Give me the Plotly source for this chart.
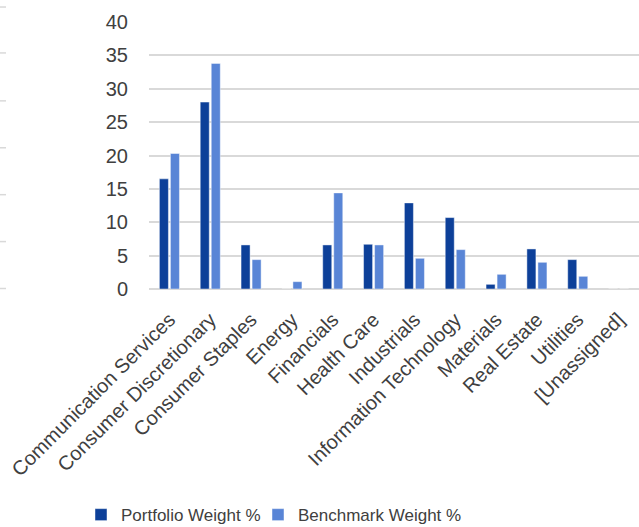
import plotly.graph_objects as go

categories = ["Communication Services", "Consumer Discretionary", "Consumer Staples", "Energy",
              "Financials", "Health Care", "Industrials", "Information Technology",
              "Materials", "Real Estate", "Utilities", "[Unassigned]"]
portfolio = [16.5, 28.0, 6.6, 0.0, 6.6, 6.7, 12.9, 10.7, 0.7, 6.0, 4.4, 0.0]
benchmark = [20.3, 33.8, 4.4, 1.1, 14.4, 6.6, 4.6, 5.9, 2.2, 4.0, 1.9, 0.0]
y_ticks = [0, 5, 10, 15, 20, 25, 30, 35, 40]

FONT = "Liberation Sans, Arial, sans-serif"
TXT = "#404040"

fig = go.Figure()
fig.add_trace(go.Bar(name="Portfolio Weight %", x=categories, y=portfolio, legend="legend",
                     marker=dict(color="#0D4099", line=dict(color="rgba(255,255,255,0.45)", width=1))))
fig.add_trace(go.Bar(name="Benchmark Weight %", x=categories, y=benchmark, legend="legend2",
                     marker=dict(color="#5985D6", line=dict(color="rgba(255,255,255,0.45)", width=1))))

W, H = 639, 527
L, R, T, B = 149, 0, 22, 237.5
pw = W - L - R
ph = H - T - B

shapes = []
for py in [7, 53, 101, 148, 195, 242, 289]:
    yp = (H - B - py) / ph
    shapes.append(dict(type="line", xref="paper", yref="paper",
                       x0=(0 - L) / pw, x1=(6 - L) / pw, y0=yp, y1=yp,
                       line=dict(color="#D9D9D9", width=1.5)))

legfont = dict(family=FONT, size=17, color=TXT)
legy = (H - B - 516) / ph

fig.update_layout(
    width=W, height=H,
    margin=dict(l=L, r=R, t=T, b=B, pad=0, autoexpand=False),
    paper_bgcolor="white", plot_bgcolor="white",
    barmode="group", bargap=0.46, bargroupgap=0.18,
    font=dict(family=FONT, size=20, color=TXT),
    showlegend=True,
    legend=dict(orientation="h", x=(81 - L) / pw, xanchor="left", y=legy, yanchor="middle",
                font=legfont, itemwidth=30, bgcolor="rgba(0,0,0,0)"),
    legend2=dict(orientation="h", x=(258 - L) / pw, xanchor="left", y=legy, yanchor="middle",
                 font=legfont, itemwidth=30, bgcolor="rgba(0,0,0,0)"),
    xaxis=dict(tickangle=-45, showgrid=False, showline=False, ticks="", ticklabelstandoff=14,
               tickfont=dict(family=FONT, size=20, color=TXT), automargin=False),
    yaxis=dict(range=[0, 40], tickvals=y_ticks, showgrid=True, gridcolor="#D9D9D9", gridwidth=1.5,
               zeroline=True, zerolinecolor="#D9D9D9", zerolinewidth=1.5, showline=False,
               ticks="", ticklabelstandoff=20,
               tickfont=dict(family=FONT, size=20, color=TXT), automargin=False),
    shapes=shapes,
)

fig.write_html("out.html")
